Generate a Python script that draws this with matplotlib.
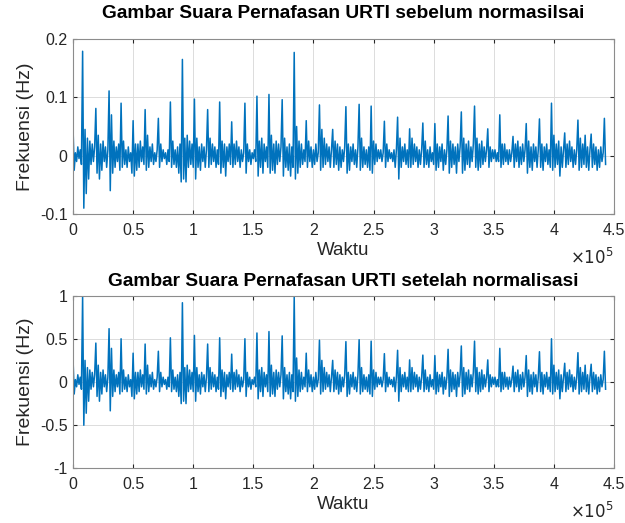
import numpy as np
import matplotlib
matplotlib.use("Agg")
import matplotlib.pyplot as plt
from matplotlib.ticker import FuncFormatter

plt.rcParams['font.family'] = ['Liberation Sans', 'DejaVu Sans']

# breath sound amplitude, one value every 1000 samples
step = 1000
amplitude = [
    0.05, -0.025, 0.005, -0.01, 0.015, -0.005, 0.01, -0.015,
    0.179, -0.09, 0.045, -0.065, 0.03, -0.04, 0.025, -0.015, 0.02, -0.01, 0.015,
    0.081, -0.03, 0.035, -0.04, 0.02, -0.025, 0.025, -0.01, 0.015, -0.02, 0.01,
    0.111, -0.06, 0.07, -0.03, 0.025, -0.02, 0.015, -0.01, 0.02, -0.025,
    0.090, -0.02, 0.025, -0.015, 0.01, -0.02, 0.015, -0.01, 0.005, -0.03,
    0.060, -0.035, 0.02, -0.025, 0.02, -0.02, 0.025, -0.01, 0.015, -0.015,
    0.079, -0.025, 0.035, -0.02, 0.015, -0.01, 0.02, -0.015, 0.005, -0.01, 0.01,
    0.064, -0.02, 0.02, -0.01, 0.01, -0.005, 0.005, -0.015, 0.01, -0.01,
    0.092, -0.02, 0.025, -0.015, 0.01, -0.02, 0.015, -0.03, 0.02, -0.045,
    0.165, -0.04, 0.03, -0.045, 0.035, -0.02, 0.025, -0.015, 0.02, -0.02,
    0.097, -0.04, 0.03, -0.02, 0.015, -0.025, 0.02, -0.01, 0.015, -0.02, 0.01,
    0.079, -0.02, 0.03, -0.015, 0.02, -0.01, 0.015, -0.02, 0.01, -0.015,
    0.092, -0.03, 0.025, -0.02, 0.02, -0.035, 0.015, -0.01, 0.02, -0.015,
    0.058, -0.02, 0.02, -0.015, 0.025, -0.01, 0.015, -0.02, 0.01, -0.01, 0.005,
    0.090, -0.03, 0.02, -0.01, 0.01, -0.015, 0.005, -0.005, 0.01, -0.01,
    0.102, -0.035, 0.025, -0.02, 0.03, -0.03, 0.02, -0.01, 0.015, -0.02,
    0.105, -0.03, 0.035, -0.025, 0.02, -0.03, 0.025, -0.015, 0.02, -0.01, 0.015,
    0.096, -0.035, 0.03, -0.02, 0.015, -0.025, 0.02, -0.035, 0.015, -0.02,
    0.177, -0.04, 0.05, -0.03, 0.025, -0.02, 0.02, -0.015, 0.01, -0.01,
    0.060, -0.02, 0.025, -0.01, 0.015, -0.02, 0.01, -0.015, 0.02, -0.01, 0.005,
    0.087, -0.025, 0.045, -0.02, 0.03, -0.015, 0.02, -0.01, 0.015, -0.02, 0.01,
    0.045, -0.02, 0.025, -0.015, 0.02, -0.025, 0.015, -0.02, 0.01, -0.01, 0.015,
    0.084, -0.03, 0.02, -0.025, 0.015, -0.01, 0.02, -0.015, 0.01, -0.02, 0.015,
    0.088, -0.025, 0.03, -0.02, 0.015, -0.015, 0.01, -0.02, 0.015, -0.025,
    0.085, -0.03, 0.025, -0.015, 0.02, -0.01, 0.01, -0.005, 0.01, -0.01, 0.005,
    0.059, -0.02, 0.02, -0.01, 0.01, -0.005, 0.005, -0.01, 0.01, -0.02, 0.01,
    0.066, -0.04, 0.03, -0.02, 0.015, -0.01, 0.02, -0.015, 0.01, -0.02,
    0.046, -0.02, 0.03, -0.015, 0.02, -0.01, 0.015, -0.02, 0.01, -0.015, 0.01,
    0.056, -0.02, 0.025, -0.015, 0.01, -0.02, 0.015, -0.01, 0.005, -0.015,
    0.055, -0.025, 0.02, -0.02, 0.015, -0.01, 0.02, -0.025, 0.01, -0.015, 0.01,
    0.068, -0.03, 0.025, -0.02, 0.02, -0.015, 0.015, -0.03, 0.02, -0.01, 0.015,
    0.075, -0.03, 0.03, -0.025, 0.02, -0.015, 0.025, -0.02, 0.015, -0.01, 0.02,
    0.085, -0.02, 0.03, -0.025, 0.02, -0.02, 0.025, -0.015, 0.015, -0.01, 0.01,
    0.046, -0.02, 0.015, -0.01, 0.01, -0.005, 0.01, -0.01, 0.005, -0.01,
    0.070, -0.02, 0.02, -0.015, 0.02, -0.01, 0.01, -0.015, 0.01, -0.01, 0.005,
    0.033, -0.02, 0.02, -0.01, 0.025, -0.02, 0.015, -0.015, 0.02, -0.01, 0.01,
    0.055, -0.03, 0.025, -0.02, 0.015, -0.025, 0.02, -0.01, 0.015, -0.02, 0.01,
    0.063, -0.02, 0.02, -0.025, 0.015, -0.01, 0.02, -0.015, 0.01, -0.02,
    0.090, -0.025, 0.035, -0.02, 0.02, -0.015, 0.025, -0.035, 0.015, -0.02, 0.01,
    0.039, -0.02, 0.02, -0.015, 0.025, -0.01, 0.015, -0.02, 0.01, -0.015, 0.01,
    0.061, -0.025, 0.03, -0.02, 0.02, -0.015, 0.035, -0.02, 0.015, -0.025, 0.01,
    0.037, -0.02, 0.02, -0.015, 0.015, -0.025, 0.01, -0.02, 0.015, -0.01, 0.005,
    0.064, -0.015,
]

titles = ["Gambar Suara Pernafasan URTI sebelum normasilsai",
          "Gambar Suara Pernafasan URTI setelah normalisasi"]
x_ticks = [0, 0.5, 1, 1.5, 2, 2.5, 3, 3.5, 4, 4.5]
y_ticks_top = [-0.1, 0, 0.1, 0.2]
y_ticks_bottom = [-1, -0.5, 0, 0.5, 1]

raw = np.array(amplitude)
normalized = raw / np.max(np.abs(raw))   # normalisasi ke [-1, 1]
t = np.arange(len(raw)) * step

fig = plt.figure(figsize=(6.25, 5.23), dpi=100)
ax1 = fig.add_axes([73/625, 1 - 214/523, 541/625, 175/523])
ax2 = fig.add_axes([73/625, 1 - 468/523, 541/625, 172/523])

gray = '#262626'
for ax, y, title, yt, tpad in [(ax1, raw, titles[0], y_ticks_top, 15),
                               (ax2, normalized, titles[1], y_ticks_bottom, 7)]:
    ax.plot(t, y, color='#0072BD', linewidth=1.1)
    ax.set_xlim(0, 4.5e5)
    ax.set_ylim(yt[0], yt[-1])
    ax.set_xticks([v * 1e5 for v in x_ticks])
    ax.xaxis.set_major_formatter(FuncFormatter(lambda v, p: ('%g' % (v / 1e5))))
    ax.set_yticks(yt)
    ax.yaxis.set_major_formatter(FuncFormatter(lambda v, p: '%g' % v))
    ax.grid(True, color='#dcdcdc', linewidth=0.7)
    ax.set_axisbelow(True)
    ax.tick_params(direction='in', top=True, right=True, length=3,
                   colors=gray, labelsize=11.5)
    ax.tick_params(axis='x', pad=6.5)
    ax.tick_params(axis='y', pad=4)
    for s in ax.spines.values():
        s.set_color('#8c8c8c')
        s.set_linewidth(0.8)
    ax.set_title(title, fontsize=13.8, fontweight='bold', pad=tpad)
    ax.set_xlabel('Waktu', fontsize=13.5, color=gray, labelpad=3)
    ax.set_ylabel('Frekuensi (Hz)', fontsize=14, color=gray, labelpad=4)
    ax.annotate(r'$\times10^{5}$', xy=(1, 0), xycoords='axes fraction',
                xytext=(0, -31), textcoords='offset points',
                ha='right', va='center', fontsize=12, color=gray)

fig.savefig('out.png', dpi=100)
